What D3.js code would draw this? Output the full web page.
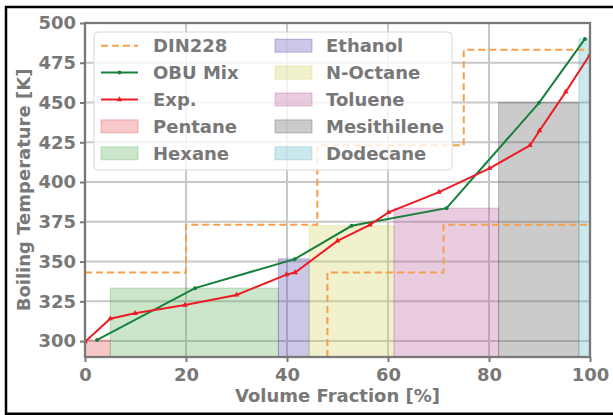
<!DOCTYPE html>
<html>
<head>
<meta charset="utf-8">
<script src="https://cdn.jsdelivr.net/npm/d3@7"></script>
<style>
  body { margin:0; background:white; }
  svg text { font-family:"DejaVu Sans", sans-serif; font-weight:bold; fill:#787878; }
</style>
</head>
<body>
<svg id="chart" width="613" height="415"></svg>
<script>
// components (shaded bars)
const compNames=["Pentane","Hexane","Ethanol","N-Octane","Toluene","Mesithilene","Dodecane"];
const compStart=[0,5,38.3,44.4,61.2,81.9,97.8];
const compEnd=[5,38.3,44.4,61.2,81.9,97.8,100];
const compTemp=[300.7,333.3,351.7,372.5,383.6,450,490];
const compColors=["#e1484b","#55ac55","#4e48ac","#d0d058","#b95598","#525252","#55b2c0"];

// OBU Mix
const obuX=[2.4,21.8,41.5,52.8,71.6,89.9,99];
const obuT=[300.7,333.3,351.5,372.5,383.6,449.8,490];

// Exp.
const expX=[0,5,9.9,19.8,30,39.9,41.6,50,56.4,60.1,70.1,80.1,88.1,90,95.2,100];
const expT=[299.6,314.1,317.5,322.7,329,341.8,343.1,363,373.1,380.9,393.7,408.6,423,432.3,456.7,480.2];

// DIN228 limits
const dinUpX=[0,20,20,46,46,75,75,100];
const dinUpT=[343.15,343.15,373.15,373.15,423.15,423.15,483.15,483.15];
const dinLoX=[48,48,71,71,100];
const dinLoT=[290,343.15,343.15,373.15,373.15];

const xTicks=[0,20,40,60,80,100];
const yTicks=[300,325,350,375,400,425,450,475,500];

const mLeft=85, mRight=590, mTop=23, mBottom=357;
const fontSize=18;
const x=d3.scaleLinear().domain([0,100]).range([mLeft,mRight]);
const y=d3.scaleLinear().domain([290,500]).range([mBottom,mTop]);

const svg=d3.select("#chart");
const gray="#787878";

// outer black frame
svg.append("line").attr("x1",5).attr("x2",613).attr("y1",7).attr("y2",7).attr("stroke","black").attr("stroke-width",2.5);
svg.append("line").attr("x1",6).attr("x2",6).attr("y1",6).attr("y2",415).attr("stroke","black").attr("stroke-width",2.5);
svg.append("line").attr("x1",5).attr("x2",613).attr("y1",413.8).attr("y2",413.8).attr("stroke","black").attr("stroke-width",2.5);

svg.append("clipPath").attr("id","clip").append("rect")
    .attr("x",mLeft).attr("y",mTop).attr("width",mRight-mLeft).attr("height",mBottom-mTop);

// grid
const gridG=svg.append("g");
xTicks.forEach(t=>{
    gridG.append("line").attr("x1",x(t)).attr("x2",x(t)).attr("y1",mTop).attr("y2",mBottom)
        .attr("stroke","#c8c8c8").attr("stroke-width",2);
});
yTicks.forEach(t=>{
    gridG.append("line").attr("x1",mLeft).attr("x2",mRight).attr("y1",y(t)).attr("y2",y(t))
        .attr("stroke","#c8c8c8").attr("stroke-width",2);
});

const plotG=svg.append("g").attr("clip-path","url(#clip)");

// bars
compNames.forEach((name,i)=>{
    plotG.append("rect")
        .attr("x",x(compStart[i])).attr("y",y(compTemp[i]))
        .attr("width",x(compEnd[i])-x(compStart[i]))
        .attr("height",y(290)-y(compTemp[i]))
        .attr("fill",compColors[i]).attr("fill-opacity",0.3)
        .attr("stroke",compColors[i]).attr("stroke-opacity",0.35).attr("stroke-width",1);
});

const line=d3.line().x(d=>x(d[0])).y(d=>y(d[1]));
const orange="#f5a04c";
plotG.append("path").attr("d",line(d3.zip(dinUpX,dinUpT)))
    .attr("fill","none").attr("stroke",orange).attr("stroke-width",2).attr("stroke-dasharray","7,4");
plotG.append("path").attr("d",line(d3.zip(dinLoX,dinLoT)))
    .attr("fill","none").attr("stroke",orange).attr("stroke-width",2).attr("stroke-dasharray","7,4");

const green="#17803c", red="#ec1c24";
plotG.append("path").attr("d",line(d3.zip(obuX,obuT)))
    .attr("fill","none").attr("stroke",green).attr("stroke-width",2);
obuX.forEach((v,i)=>{
    plotG.append("circle").attr("cx",x(v)).attr("cy",y(obuT[i])).attr("r",2).attr("fill",green);
});
plotG.append("path").attr("d",line(d3.zip(expX,expT)))
    .attr("fill","none").attr("stroke",red).attr("stroke-width",2);
const tri=d3.symbol().type(d3.symbolTriangle).size(14);
expX.forEach((v,i)=>{
    plotG.append("path").attr("d",tri()).attr("transform",`translate(${x(v)},${y(expT[i])})`).attr("fill",red);
});

// axes
const xAxis=svg.append("g").attr("transform",`translate(0,${mBottom})`)
    .call(d3.axisBottom(x).tickValues(xTicks).tickSize(5).tickPadding(6));
const yAxis=svg.append("g").attr("transform",`translate(${mLeft},0)`)
    .call(d3.axisLeft(y).tickValues(yTicks).tickSize(5).tickPadding(4));
[xAxis,yAxis].forEach(a=>{
    a.select(".domain").remove();
    a.selectAll(".tick line").attr("stroke",gray).attr("stroke-width",2);
    a.selectAll(".tick text").attr("font-size",fontSize).attr("fill",gray).style("font-family","DejaVu Sans");
});
svg.append("rect").attr("x",mLeft).attr("y",mTop).attr("width",mRight-mLeft).attr("height",mBottom-mTop)
    .attr("fill","none").attr("stroke",gray).attr("stroke-width",2.3);

svg.append("text").attr("x",(mLeft+mRight)/2).attr("y",401.5).attr("text-anchor","middle")
    .attr("font-size",fontSize).text("Volume Fraction [%]");
svg.append("text").attr("transform",`translate(30,${(mTop+mBottom)/2}) rotate(-90)`).attr("text-anchor","middle")
    .attr("font-size",fontSize).text("Boiling Temperature [K]");

// legend
const legG=svg.append("g");
legG.append("rect").attr("x",94).attr("y",32).attr("width",358).attr("height",138).attr("rx",4)
    .attr("fill","white").attr("fill-opacity",0.8).attr("stroke","#d8d8d8").attr("stroke-width",1);
const legNames=["DIN228","OBU Mix","Exp."].concat(compNames);
legNames.forEach((name,i)=>{
    const col=i<5?0:1, row=i%5;
    const hx=col===0?101:275, tx=col===0?153:326;
    const cy=45.7+row*26.9;
    if (i===0) {
        legG.append("line").attr("x1",hx).attr("x2",hx+37).attr("y1",cy).attr("y2",cy)
            .attr("stroke",orange).attr("stroke-width",2).attr("stroke-dasharray","7,4");
    } else if (i===1) {
        legG.append("line").attr("x1",hx).attr("x2",hx+37).attr("y1",cy).attr("y2",cy)
            .attr("stroke",green).attr("stroke-width",2);
        legG.append("circle").attr("cx",hx+18.5).attr("cy",cy).attr("r",2).attr("fill",green);
    } else if (i===2) {
        legG.append("line").attr("x1",hx).attr("x2",hx+37).attr("y1",cy).attr("y2",cy)
            .attr("stroke",red).attr("stroke-width",2);
        legG.append("path").attr("d",tri()).attr("transform",`translate(${hx+18.5},${cy})`).attr("fill",red);
    } else {
        const c=compColors[i-3];
        legG.append("rect").attr("x",hx).attr("y",cy-6.5).attr("width",37).attr("height",13)
            .attr("fill",c).attr("fill-opacity",0.3).attr("stroke",c).attr("stroke-opacity",0.35);
    }
    legG.append("text").attr("x",tx).attr("y",cy+6.5).attr("font-size",fontSize).text(name);
});
</script>
</body>
</html>
